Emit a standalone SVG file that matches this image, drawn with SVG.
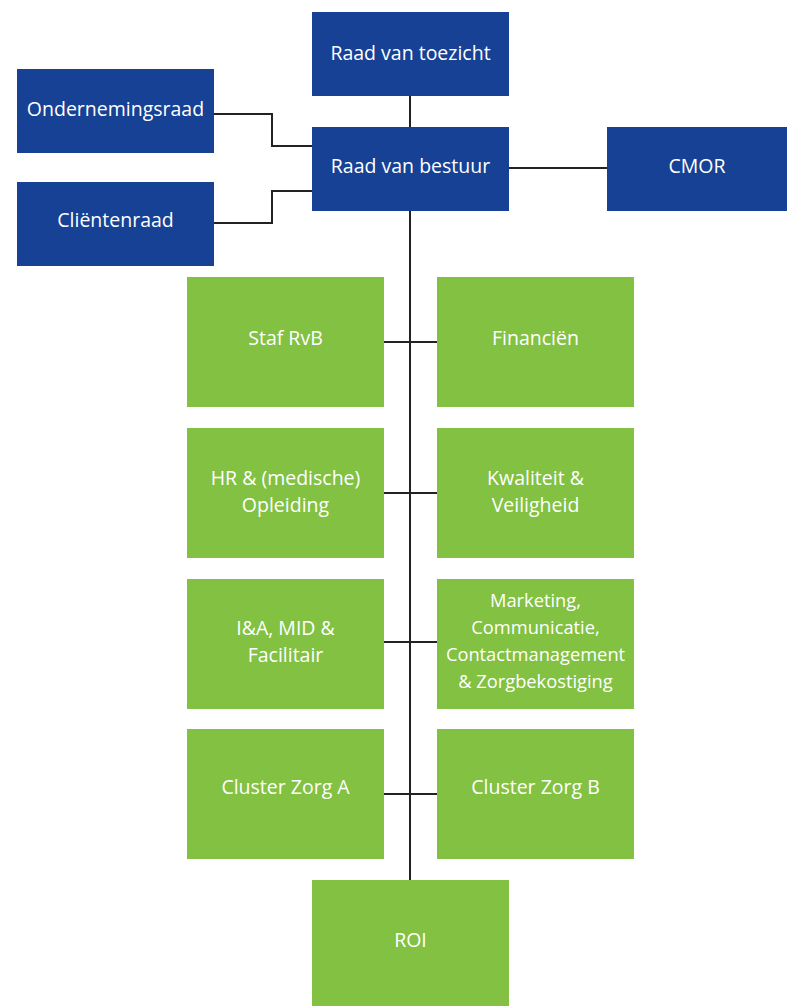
<svg xmlns="http://www.w3.org/2000/svg" width="787" height="1006" viewBox="0 0 787 1006">
<style>
.b{fill:#164194}
.g{fill:#82c142}
.t{font-family:"Open Sans","Noto Sans",sans-serif;font-size:19.5px;fill:#ffffff;text-anchor:middle;dominant-baseline:central}
.s{font-size:18.3px}
.c{fill:none;stroke:#222222;stroke-width:2}
</style>
<rect width="787" height="1006" fill="#ffffff"/>
<g id="connectors">
<path class="c" d="M410 96V880"/>
<path class="c" d="M214 114H272V146H312"/>
<path class="c" d="M214 223H272V191H312"/>
<path class="c" d="M509 168H607"/>
<path class="c" d="M384 342H437"/>
<path class="c" d="M384 493H437"/>
<path class="c" d="M384 642H437"/>
<path class="c" d="M384 794H437"/>
</g>
<g id="rvt"><rect class="b" x="312" y="12" width="197" height="84"/><text class="t" x="410.5" y="52">Raad van toezicht</text></g>
<g id="or"><rect class="b" x="17" y="69" width="197" height="84"/><text class="t" x="115.5" y="108">Ondernemingsraad</text></g>
<g id="rvb"><rect class="b" x="312" y="127" width="197" height="84"/><text class="t" x="410.5" y="165">Raad van bestuur</text></g>
<g id="cr"><rect class="b" x="17" y="182" width="197" height="84"/><text class="t" x="115.5" y="219">Cliëntenraad</text></g>
<g id="cmor"><rect class="b" x="607" y="127" width="180" height="84"/><text class="t" x="697" y="165">CMOR</text></g>
<g id="staf"><rect class="g" x="187" y="277" width="197" height="130"/><text class="t" x="285.5" y="337">Staf RvB</text></g>
<g id="fin"><rect class="g" x="437" y="277" width="197" height="130"/><text class="t" x="535.5" y="337">Financiën</text></g>
<g id="hr"><rect class="g" x="187" y="428" width="197" height="130"/><text class="t" x="285.5" y="477">HR &amp; (medische)</text><text class="t" x="285.5" y="504">Opleiding</text></g>
<g id="kv"><rect class="g" x="437" y="428" width="197" height="130"/><text class="t" x="535.5" y="477">Kwaliteit &amp;</text><text class="t" x="535.5" y="504">Veiligheid</text></g>
<g id="ia"><rect class="g" x="187" y="579" width="197" height="130"/><text class="t" x="285.5" y="627">I&amp;A, MID &amp;</text><text class="t" x="285.5" y="654">Facilitair</text></g>
<g id="mc"><rect class="g" x="437" y="579" width="197" height="130"/><text class="t s" x="535.5" y="599">Marketing,</text><text class="t s" x="535.5" y="626">Communicatie,</text><text class="t s" x="535.5" y="653">Contactmanagement</text><text class="t s" x="535.5" y="680">&amp; Zorgbekostiging</text></g>
<g id="za"><rect class="g" x="187" y="729" width="197" height="130"/><text class="t" x="285.5" y="786">Cluster Zorg A</text></g>
<g id="zb"><rect class="g" x="437" y="729" width="197" height="130"/><text class="t" x="535.5" y="786">Cluster Zorg B</text></g>
<g id="roi"><rect class="g" x="312" y="880" width="197" height="126"/><text class="t" x="410.5" y="939">ROI</text></g>
</svg>
